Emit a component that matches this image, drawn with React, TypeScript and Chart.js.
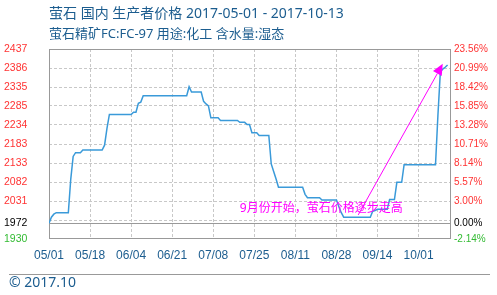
import React, { useEffect, useRef } from 'react';
import { Chart, registerables } from 'chart.js';

Chart.register(...registerables);

const titleLine1 = '萤石 国内 生产者价格 2017-05-01 - 2017-10-13';
const titleLine2 = '萤石精矿FC:FC-97 用途:化工 含水量:湿态';
const footerText = '© 2017.10';
const noteText = '9月份开始，萤石价格逐步走高';

const axisStart = '05/01';
const axisEnd = '10/14';

const priceDates = [
  '05/01', '05/02', '05/03', '05/04', '05/09', '05/10', '05/11', '05/12', '05/14', '05/15',
  '05/23', '05/24', '05/25', '05/26', '06/04', '06/05', '06/06', '06/07', '06/08', '06/09',
  '06/27', '06/28', '06/29', '07/03', '07/04', '07/05', '07/06', '07/07', '07/10', '07/11',
  '07/18', '07/19', '07/21', '07/22', '07/23', '07/24', '07/26', '07/27', '07/31', '08/01',
  '08/02', '08/03', '08/04', '08/14', '08/15', '08/16', '08/21', '08/22', '08/28', '08/29',
  '08/30', '08/31', '09/11', '09/12', '09/13', '09/14', '09/18', '09/19', '09/21', '09/22',
  '09/24', '09/25', '10/08', '10/09', '10/10', '10/11', '10/12', '10/13',
];
const prices = [
  1972, 1988, 1996, 2000, 2000, 2089, 2150, 2160, 2160, 2167,
  2167, 2180, 2225, 2262, 2262, 2268, 2268, 2292, 2295, 2312,
  2312, 2336, 2322, 2322, 2297, 2290, 2285, 2253, 2253, 2246,
  2246, 2241, 2241, 2235, 2235, 2213, 2213, 2206, 2206, 2130,
  2110, 2090, 2068, 2068, 2049, 2040, 2040, 2034, 2034, 2016,
  2000, 1988, 1988, 2004, 2006, 2009, 2009, 2035, 2035, 2081,
  2081, 2128, 2128, 2260, 2375, 2383, 2388, 2394,
];

const xTickLabels = ['05/01', '05/18', '06/04', '06/21', '07/08', '07/25', '08/11', '08/28', '09/14', '10/01'];

const basePrice = 1972;
const pctTicks = [-2.14, 0, 0.43, 3.0, 5.57, 8.14, 10.71, 13.28, 15.85, 18.42, 20.99, 23.56];
const leftTickLabels = ['1930', '1972', '', '2031', '2082', '2133', '2183', '2234', '2285', '2335', '2386', '2437'];
const rightTickLabels = ['-2.14%', '0.00%', '', '3.00%', '5.57%', '8.14%', '10.71%', '13.28%', '15.85%', '18.42%', '20.99%', '23.56%'];

const noteAnchor = { date: '07/19', price: 2011 };
const arrowFrom = { date: '09/06', price: 1994 };
const arrowTo = { date: '10/11', price: 2397 };

const BLUE_TEXT = '#1c5d8f';
const LINE_BLUE = '#3a9ad9';
const RED = '#ff3333';
const GREEN = '#33bb33';
const MAGENTA = '#ff00ff';
const GRID = '#c8c8c8';
const BORDER = '#999999';

const dayOf = (md: string) => {
  const [m, d] = md.split('/').map(Number);
  const [m0, d0] = axisStart.split('/').map(Number);
  return (Date.UTC(2017, m - 1, d) - Date.UTC(2017, m0 - 1, d0)) / 86400000;
};

const tickColor = (i: number) => (i === 0 ? GREEN : i === 1 ? '#000000' : RED);

const decorPlugin = {
  id: 'decor',
  beforeDatasetsDraw(chart: any) {
    const { ctx, chartArea } = chart;
    const y = chart.scales.y;
    ctx.save();
    ctx.strokeStyle = BORDER;
    ctx.lineWidth = 1;
    ctx.setLineDash([]);
    const l = Math.round(chartArea.left) + 0.5;
    const t = Math.round(chartArea.top) + 0.5;
    const r = Math.round(chartArea.right) + 0.5;
    const b = Math.round(chartArea.bottom) - 0.5;
    ctx.strokeRect(l, t, r - l, b - t);
    const yb = Math.floor(y.getPixelForValue(basePrice)) + 0.5;
    ctx.beginPath();
    ctx.moveTo(l, yb);
    ctx.lineTo(r, yb);
    ctx.stroke();
    ctx.restore();
  },
  afterDatasetsDraw(chart: any) {
    const { ctx } = chart;
    const xs = chart.scales.x;
    const ys = chart.scales.y;
    ctx.save();
    // arrow
    const x1 = xs.getPixelForValue(dayOf(arrowFrom.date));
    const y1 = ys.getPixelForValue(arrowFrom.price);
    const x2 = xs.getPixelForValue(dayOf(arrowTo.date));
    const y2 = ys.getPixelForValue(arrowTo.price);
    const ang = Math.atan2(y2 - y1, x2 - x1);
    const headLen = 11;
    const headHalf = 5;
    const bx = x2 - headLen * Math.cos(ang);
    const by = y2 - headLen * Math.sin(ang);
    ctx.strokeStyle = MAGENTA;
    ctx.fillStyle = MAGENTA;
    ctx.lineWidth = 1;
    ctx.beginPath();
    ctx.moveTo(x1, y1);
    ctx.lineTo(bx, by);
    ctx.stroke();
    ctx.beginPath();
    ctx.moveTo(x2, y2);
    ctx.lineTo(bx + headHalf * Math.sin(ang), by - headHalf * Math.cos(ang));
    ctx.lineTo(bx - headHalf * Math.sin(ang), by + headHalf * Math.cos(ang));
    ctx.closePath();
    ctx.fill();
    // note text
    ctx.font = "12px 'Noto Sans', 'Noto Sans CJK SC', sans-serif";
    ctx.textBaseline = 'middle';
    ctx.textAlign = 'left';
    ctx.fillText(noteText, xs.getPixelForValue(dayOf(noteAnchor.date)), ys.getPixelForValue(noteAnchor.price));
    ctx.restore();
  },
  afterDraw(chart: any) {
    const { ctx, chartArea } = chart;
    ctx.save();
    ctx.fillStyle = BLUE_TEXT;
    ctx.textAlign = 'left';
    ctx.textBaseline = 'middle';
    ctx.font = "14px 'Noto Sans', 'Noto Sans CJK SC', sans-serif";
    ctx.fillText(titleLine1, chartArea.left, 14.5);
    ctx.font = "13px 'Noto Sans', 'Noto Sans CJK SC', sans-serif";
    ctx.fillText(titleLine2, chartArea.left, 33.8);
    // separator
    ctx.strokeStyle = BORDER;
    ctx.lineWidth = 1;
    ctx.beginPath();
    ctx.moveTo(9, 274.5);
    ctx.lineTo(490, 274.5);
    ctx.stroke();
    ctx.font = "14px 'Noto Sans', sans-serif";
    ctx.fillText(footerText, 9, 283.5);
    ctx.restore();
  },
};

export default function App() {
  const ref = useRef<HTMLCanvasElement>(null);
  useEffect(() => {
    const canvas = ref.current;
    if (!canvas) return;
    const data = priceDates.map((d, i) => ({ x: dayOf(d), y: prices[i] }));
    const yTickValues = pctTicks.map((p) => basePrice * (1 + p / 100));
    const yMin = yTickValues[0];
    const yMax = yTickValues[yTickValues.length - 1];
    const lastIdx = yTickValues.length - 1;

    const chart = new Chart(canvas, {
      type: 'line',
      data: {
        datasets: [
          {
            data,
            borderColor: LINE_BLUE,
            borderWidth: 1.5,
            pointRadius: 0,
            tension: 0,
            fill: false,
          },
        ],
      },
      options: {
        animation: false,
        responsive: false,
        events: [],
        layout: { padding: { left: 4, top: 49, right: 0, bottom: 0 } },
        plugins: { legend: { display: false }, tooltip: { enabled: false }, title: { display: false } },
        scales: {
          x: {
            type: 'linear',
            min: dayOf(axisStart),
            max: dayOf(axisEnd),
            afterBuildTicks: (s: any) => {
              s.ticks = xTickLabels.map((l) => ({ value: dayOf(l) }));
            },
            afterFit: (s: any) => {
              s.height = 56;
            },
            ticks: {
              autoSkip: false,
              maxRotation: 0,
              minRotation: 0,
              padding: 9,
              color: BLUE_TEXT,
              font: { family: "'Liberation Sans', sans-serif", size: 12 },
              callback: (_v: any, i: number) => xTickLabels[i],
            },
            grid: {
              drawTicks: false,
              lineWidth: 1,
              color: (c: any) => (c.index === 0 ? 'rgba(0,0,0,0)' : GRID),
              borderDash: [3, 2],
            } as any,
            border: { display: false, dash: [3, 2] },
          },
          y: {
            type: 'linear',
            position: 'left',
            min: yMin,
            max: yMax,
            afterBuildTicks: (s: any) => {
              s.ticks = yTickValues.map((v) => ({ value: v }));
            },
            afterFit: (s: any) => {
              s.width = 45;
            },
            ticks: {
              autoSkip: false,
              crossAlign: 'far',
              padding: 0,
              color: (c: any) => tickColor(c.index),
              font: { family: "'Liberation Sans', sans-serif", size: 10.5 },
              callback: (_v: any, i: number) => leftTickLabels[i],
            },
            grid: {
              drawTicks: false,
              lineWidth: 1,
              color: (c: any) =>
                c.index === 0 || c.index === 1 || c.index === lastIdx ? 'rgba(0,0,0,0)' : GRID,
              borderDash: [3, 2],
            } as any,
            border: { display: false, dash: [3, 2] },
          },
          y2: {
            type: 'linear',
            position: 'right',
            min: yMin,
            max: yMax,
            afterBuildTicks: (s: any) => {
              s.ticks = yTickValues.map((v) => ({ value: v }));
            },
            afterFit: (s: any) => {
              s.width = 47;
            },
            ticks: {
              autoSkip: false,
              crossAlign: 'near',
              padding: 4,
              color: (c: any) => tickColor(c.index),
              font: { family: "'Liberation Sans', sans-serif", size: 10 },
              callback: (_v: any, i: number) => rightTickLabels[i],
            },
            grid: { display: false, drawTicks: false },
            border: { display: false },
          },
        },
      },
      plugins: [decorPlugin],
    } as any);
    return () => chart.destroy();
  }, []);

  return (
    <div style={{ position: 'fixed', left: 0, top: 0, width: 497, height: 295, background: '#ffffff' }}>
      <canvas ref={ref} width={497} height={295} style={{ display: 'block', width: 497, height: 295 }} />
    </div>
  );
}
